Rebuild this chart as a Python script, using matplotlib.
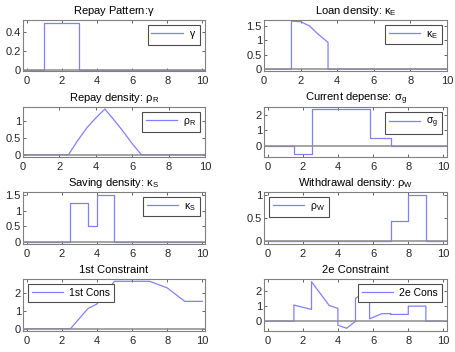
import matplotlib
matplotlib.use('Agg')
import matplotlib.pyplot as plt

plt.rcParams['font.family'] = ['Liberation Sans', 'DejaVu Sans']
plt.rcParams['mathtext.default'] = 'regular'
plt.rcParams['font.size'] = 8

# Repay pattern gamma
gam_x = [0, 1, 1, 3, 3, 10]
gam_y = [0, 0, 0.5, 0.5, 0, 0]

# Loan density kappa_E
kapE_x = [0, 1.5, 1.5, 2.0, 2.5, 2.9, 3.5, 3.5, 10]
kapE_y = [0, 0, 1.67, 1.65, 1.5, 1.25, 0.93, 0, 0]

# Repay density rho_R
rhoR_x = [0, 2.5, 3.0, 3.5, 4.0, 4.5, 5.0, 5.5, 6.0, 6.5, 10]
rhoR_y = [0, 0, 0.42, 0.8, 1.1, 1.37, 1.04, 0.7, 0.33, 0, 0]

# Current depense sigma_g
sig_x = [0, 1.5, 1.5, 2.5, 2.5, 5.8, 5.8, 7, 7, 10]
sig_y = [0, 0, -0.58, -0.58, 2.45, 2.45, 0.5, 0.5, 0, 0]

# Saving density kappa_S
kapS_x = [0, 2.5, 2.5, 3.5, 3.5, 4, 4, 5, 5, 10]
kapS_y = [0, 0, 1.25, 1.25, 0.5, 0.5, 1.5, 1.5, 0, 0]

# Withdrawal density rho_W
rhoW_x = [0, 7, 7, 8, 8, 9, 9, 10]
rhoW_y = [0, 0, 0.45, 0.45, 1.0, 1.0, 0, 0]

# 1st constraint
c1_x = [0, 2.5, 3.5, 4, 5, 6, 7, 8, 9, 10]
c1_y = [0, 0, 1.14, 1.39, 2.67, 2.67, 2.67, 2.3, 1.54, 1.54]

# 2e constraint
c2_x = [0, 1.5, 1.5, 2.5, 2.5, 3.5, 4, 4, 4.5, 5, 5, 5.8, 5.8, 6.5, 7, 7, 8, 8, 9, 9, 10]
c2_y = [0, 0, 1.07, 0.78, 2.62, 1.05, 0.85, -0.27, -0.47, 0.0, 1.51, 2.16, 0.16, 0.5, 0.5, 0.45, 0.45, 1.0, 1.0, 0, 0]

panels = [
    (gam_x, gam_y, 'Repay Pattern:$\\gamma$', '$\\gamma$', 'upper right',
     (-0.2, 10.15), (-0.015, 0.53), [0, 0.2, 0.4], ['0', '0.2', '0.4']),
    (kapE_x, kapE_y, 'Loan density: $\\kappa_E$', '$\\kappa_E$', 'upper right',
     (0, 10), (-0.06, 1.71), [0, 0.5, 1, 1.5], ['0', '0.5', '1', '1.5']),
    (rhoR_x, rhoR_y, 'Repay density: $\\rho_R$', '$\\rho_R$', 'upper right',
     (0, 10), (-0.07, 1.43), [0, 0.5, 1], ['0', '0.5', '1']),
    (sig_x, sig_y, 'Current depense: $\\sigma_g$', '$\\sigma_g$', 'upper right',
     (-0.2, 10.2), (-0.75, 2.55), [0, 1, 2], ['0', '1', '2']),
    (kapS_x, kapS_y, 'Saving density: $\\kappa_S$', '$\\kappa_S$', 'upper right',
     (-0.2, 10.15), (-0.08, 1.6), [0, 0.5, 1, 1.5], ['0', '0.5', '1', '1.5']),
    (rhoW_x, rhoW_y, 'Withdrawal density: $\\rho_W$', '$\\rho_W$', 'upper left',
     (-0.2, 10.2), (-0.06, 1.07), [0, 0.5, 1], ['0', '0.5', '1']),
    (c1_x, c1_y, '1st Constraint', '1st Cons', 'upper left',
     (-0.2, 10.15), (-0.13, 2.8), [0, 1, 2], ['0', '1', '2']),
    (c2_x, c2_y, '2e Constraint', '2e Cons', 'upper right',
     (-0.2, 10.2), (-0.65, 2.8), [0, 1, 2], ['0', '1', '2']),
]

# axes boxes in pixels (left, top, right, bottom)
cols = [(23, 205), (264, 447)]
rows = [(20, 71), (107, 157), (192, 244), (279, 331)]
W, H = 456, 352

fig = plt.figure(figsize=(W / 100, H / 100), dpi=100)

for i, (x, y, title, lab, loc, xl, yl, yt, ytl) in enumerate(panels):
    l, r = cols[i % 2]
    t, b = rows[i // 2]
    ax = fig.add_axes([l / W, 1 - b / H, (r - l) / W, (b - t) / H])
    ax.plot(x, y, color='#8080ff', lw=0.9, label=lab)
    ax.axhline(0, color='0.55', lw=1.1, zorder=3)
    ax.set_xlim(xl)
    ax.set_ylim(yl)
    ax.set_xticks([0, 2, 4, 6, 8, 10])
    ax.set_yticks(yt)
    ax.set_yticklabels(ytl)
    ax.set_title(title, fontsize=8, pad=4)
    ax.tick_params(direction='in', top=True, right=True, length=2, width=0.5,
                   labelsize=8, colors='0.15')
    ax.tick_params(axis='x', pad=3.5)
    ax.tick_params(axis='y', pad=1.5)
    for s in ax.spines.values():
        s.set_color('0.5')
        s.set_linewidth(0.8)
    leg = ax.legend(loc=loc, fontsize=7.5, handlelength=3.0, fancybox=False,
                    framealpha=1, borderpad=0.35, borderaxespad=0.5,
                    handletextpad=0.6)
    leg.get_frame().set_edgecolor('0.3')
    leg.get_frame().set_linewidth(0.8)

fig.savefig('out.png', dpi=100)
